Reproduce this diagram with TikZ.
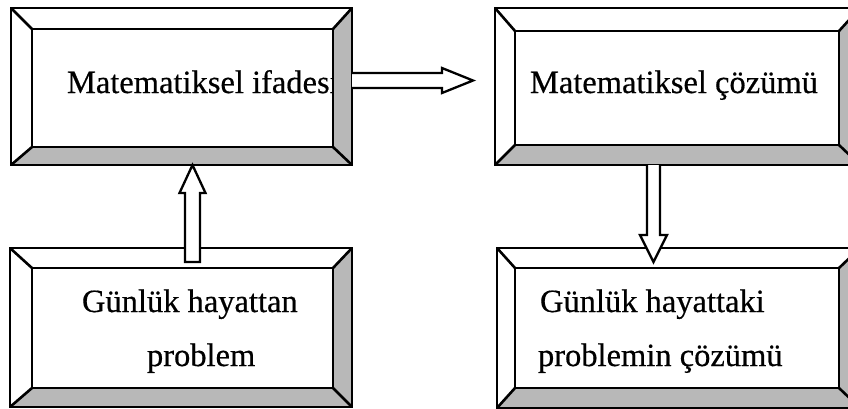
\documentclass[tikz,border=0pt]{standalone}
\usepackage{fontspec}
\setmainfont{Liberation Serif}[BoldFont={Liberation Serif}, BoldFeatures={FakeBold=0.5}]
\usetikzlibrary{calc}
\tikzset{
  slot/.style={rectangle, draw=none, outer sep=0pt, inner sep=0pt},
  bev/.style={fill=black!28},
  frameline/.style={draw=black, line width=2.6pt, line join=miter},
  lbl/.style={inner sep=0pt, outer sep=0pt, font=\fontsize{32.5}{38}\selectfont\bfseries},
  blockarrow/.style={draw=black, fill=white, line width=2.3pt, line join=miter}
}
\newcommand\bevelframe[2]{%
  \fill[bev] (#1.north east) -- (#1.south east) -- (#1.south west) -- (#2.south west) -- (#2.south east) -- (#2.north east) -- cycle;
  \draw[frameline] (#1.north west) rectangle (#1.south east);
  \draw[frameline] (#2.north west) rectangle (#2.south east);
  \draw[frameline] (#1.north west) -- (#2.north west);
  \draw[frameline] (#1.north east) -- (#2.north east);
  \draw[frameline] (#1.south west) -- (#2.south west);
  \draw[frameline] (#1.south east) -- (#2.south east);
}
\begin{document}
\begin{tikzpicture}[x=1pt,y=-1pt]
\clip (0,0) rectangle (848,408);
\fill[white] (0,0) rectangle (848,408);
% box slots
\node[slot, minimum width=341pt, minimum height=157pt] (b1o) at (181.5,86.5) {};
\node[slot, minimum width=301pt, minimum height=118pt] (b1i) at (182.5,88) {};
\node[slot, minimum width=365pt, minimum height=157pt] (b2o) at (677.5,86.5) {};
\node[slot, minimum width=324pt, minimum height=114pt] (b2i) at (677,88) {};
\node[slot, minimum width=342pt, minimum height=159pt] (b3o) at (181,327.5) {};
\node[slot, minimum width=301pt, minimum height=120pt] (b3i) at (182.5,328) {};
\node[slot, minimum width=363pt, minimum height=160pt] (b4o) at (678.5,328) {};
\node[slot, minimum width=324pt, minimum height=120pt] (b4i) at (677,328) {};
% texts
\node[lbl, anchor=base west] (t1) at (67,93) {Matematiksel ifadesi};
\node[lbl, anchor=base west] (t2) at (530,93) {Matematiksel çözümü};
\node[lbl, anchor=base west] (t3a) at (82,312) {Günlük hayattan};
\node[lbl, anchor=base west] (t3b) at (147,366) {problem};
\node[lbl, anchor=base west] (t4a) at (540,312) {Günlük hayattaki};
\node[lbl, anchor=base west] (t4b) at (538,366) {problemin çözümü};
% frames
\bevelframe{b1o}{b1i}
\bevelframe{b2o}{b2i}
\bevelframe{b3o}{b3i}
\bevelframe{b4o}{b4i}
% arrows
\draw[blockarrow] (b1o.east |- 0,73) -- (442,73) -- (442,68) -- (473,80.5) -- (442,93) -- (442,88) -- (b1o.east |- 0,88);
\draw[blockarrow] (185,262) -- (185,193) -- (179.5,193) -- ($(b1o.south)+(11,0)$) -- (205.5,193) -- (200,193) -- (200,262) -- cycle;
\draw[blockarrow] (647,0 |- b2o.south) -- (647,235) -- (640,235) -- (653.5,262) -- (667,235) -- (660,235) -- (660,0 |- b2o.south);
\end{tikzpicture}
\end{document}
